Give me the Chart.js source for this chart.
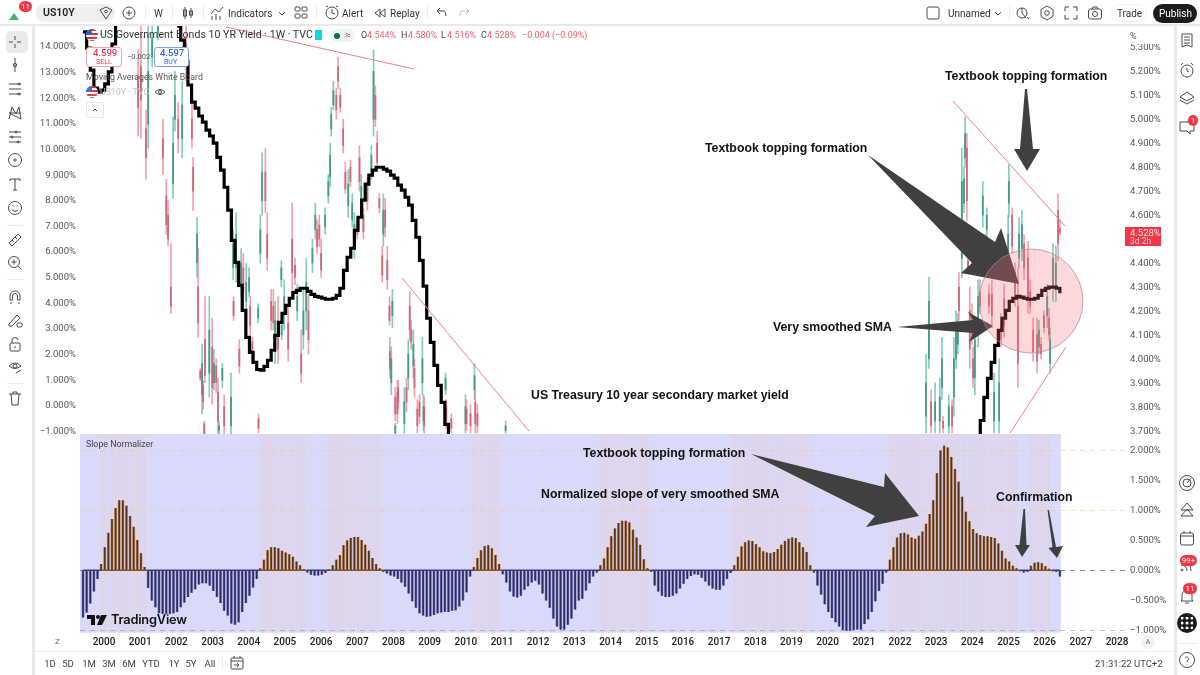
<!DOCTYPE html>
<html>
<head>
<meta charset="utf-8">
<title>US10Y</title>
<script src="https://cdn.jsdelivr.net/npm/chart.js@4"></script>
<style>
  html, body { margin: 0; padding: 0; width: 1200px; height: 675px; overflow: hidden; background: #fff;
    font-family: Roboto, "Noto Sans", sans-serif; color: #333; }
  canvas { position: absolute; }
  .t { position: absolute; white-space: nowrap; line-height: 1; }
  .note { position: absolute; white-space: nowrap; line-height: 1; font-family: "Liberation Sans", sans-serif;
    font-weight: bold; font-size: 12.3px; color: #111; }
  .sep { position: absolute; background: #e9e9e9; }
  .badge { position: absolute; background: #f23645; color: #fff; border-radius: 8px; font-size: 8px; line-height: 11px;
    text-align: center; height: 11px; }
  svg.ic { position: absolute; overflow: visible; fill: none; stroke: #4a4a4a; stroke-width: 1; }
  svg#draw { position: absolute; left: 0; top: 0; }
</style>
</head>
<body>
<canvas id="mainChart" width="1140" height="410" style="left:34px;top:24px"></canvas>
<canvas id="slopeChart" width="1140" height="222" style="left:34px;top:434px"></canvas>

<svg id="draw" width="1200" height="675">
  <g stroke="#ef7f8b" stroke-width="1" fill="none">
    <line x1="226" y1="27" x2="414" y2="69"/>
    <line x1="402" y1="278" x2="529" y2="431"/>
    <line x1="953" y1="101" x2="1065" y2="226"/>
    <line x1="1010" y1="433" x2="1066" y2="347"/>
  </g>
  <g fill="#404040">
    <polygon points="1025,89 1027,89 1033,149 1040,149 1027,171 1014,149 1020,149"/>
    <polygon points="868,155 995,242 1001,228 1019,284 961,273 972,263"/>
    <polygon points="897,327 973,320 968,312 993,326 969,342 973,333"/>
    <polygon points="751,454 884,487 885,473 919,516 866,527 875,516"/>
    <polygon points="1023.5,509 1025,509 1026.5,545 1030,545 1022,557 1015,545 1019.5,545"/>
    <polygon points="1047.5,510 1049,510 1056,547 1063,546 1057,558 1048.5,548 1052.5,547"/>
  </g>
  <circle cx="1031" cy="301" r="52" fill="rgba(248,110,120,.27)" stroke="rgba(170,140,140,.7)" stroke-width="1"/>
</svg>

<div id="ui"></div>

<script>
// bars are one tenth of a year apart in this compressed view
const firstBarYear = 1999.42;
const barStep = 0.1;

// Slope Normalizer histogram, %
const slopeValues = [
  -.78,-.7,-.55,-.35,-.14,.1,.38,.62,.85,1.03,
  1.16,1.16,1.07,.9,.72,.5,.28,.05,-.29,-.5,
  -.61,-.71,-.72,-.72,-.72,-.71,-.69,-.61,-.53,-.44,
  -.37,-.31,-.23,-.21,-.21,-.25,-.34,-.44,-.54,-.67,
  -.75,-.88,-.9,-.86,-.69,-.54,-.42,-.28,-.14,.03,
  .17,.33,.38,.38,.36,.32,.29,.26,.22,.14,
  .08,.01,-.03,-.07,-.08,-.08,-.07,-.04,.01,.08,
  .17,.25,.41,.49,.53,.55,.55,.5,.42,.32,
  .2,.1,.03,-.02,-.05,-.08,-.1,-.14,-.2,-.27,
  -.38,-.51,-.62,-.71,-.75,-.77,-.76,-.74,-.71,-.7,
  -.69,-.69,-.67,-.66,-.6,-.5,-.36,-.1,.05,.2,
  .33,.4,.41,.36,.25,.1,-.06,-.2,-.35,-.43,
  -.45,-.42,-.32,-.26,-.2,-.17,-.23,-.38,-.5,-.62,
  -.8,-.93,-.98,-.98,-.9,-.8,-.65,-.5,-.47,-.33,
  -.21,-.1,-.03,.08,.19,.38,.56,.69,.78,.82,
  .82,.79,.67,.54,.42,.18,.03,-.02,-.25,-.35,
  -.42,-.44,-.44,-.42,-.38,-.3,-.22,-.14,-.09,-.06,
  -.07,-.12,-.18,-.25,-.3,-.32,-.32,-.25,-.14,-.04,
  .08,.22,.39,.46,.49,.48,.43,.38,.31,.29,
  .28,.3,.35,.42,.48,.52,.54,.53,.46,.38,
  .3,.08,-.03,-.25,-.4,-.56,-.69,-.79,-.86,-.93,
  -.99,-1,-1,-.99,-.98,-.98,-.89,-.81,-.69,-.51,
  -.34,-.22,-.03,.17,.38,.54,.61,.62,.59,.54,
  .52,.57,.64,.77,.93,1.16,1.61,1.99,2.07,2.04,
  1.88,1.68,1.47,1.22,.97,.81,.68,.61,.58,.56,
  .56,.55,.53,.44,.32,.19,.14,.07,.03,-.01,
  -.03,-.02,.07,.12,.13,.11,.06,.02,-.01,-.02,
  -.1
];

// very smoothed SMA, left axis %, only where it is inside the pane
const smaStart = [14.55,13.92,13.06,12.36,12.2,12.28,12.52,12.99,14.08,14.82];
const smaMiddle = [
  14.78,14.23,13.38,12.48,11.81,11.58,11.27,11.03,10.72,10.49,
  10.21,9.66,9.16,8.49,7.6,6.42,5.56,4.66,3.69,2.63,
  2.05,1.66,1.38,1.35,1.5,1.74,2.13,2.71,3.22,3.57,
  3.88,4.16,4.39,4.47,4.55,4.55,4.43,4.31,4.23,4.2,
  4.16,4.12,4.12,4.16,4.27,4.55,5.25,5.76,6.11,6.81,
  7.32,7.99,8.61,8.96,9.16,9.27,9.27,9.2,9.12,8.96,
  8.85,8.57,8.38,8.1,7.79,7.2,6.54,5.64,4.63,3.38,
  2.44,1.54,.76,.1,-.76,-1.58
];
const smaEnd = [-1.31,-.61,.29,1.03,1.66,2.32,2.91,3.38,3.69,4.04,4.16,4.23,4.2,4.16,4.12,4.12,4.16,4.27,4.47,4.55,4.59,4.59,4.55,4.35];
const smaGapOne = 16;
const smaGapTwo = 145;

// weekly candles, right axis %, only the ones inside the pane
const candleYear = [
  2000.94,2001.02,2001.16,2001.22,2001.33,2001.49,2001.63,2001.72,2001.77,2001.85,2001.91,2001.96,2002.05,2002.16,2002.27,2002.43,2002.46,2002.57,2002.6,2002.66,
  2002.71,2002.74,2002.77,2002.79,2002.91,2002.99,2003.04,2003.1,2003.15,2003.18,2003.27,2003.32,2003.51,2003.57,2003.58,2003.65,2003.74,2003.79,2003.85,2003.93,
  2004.01,2004.04,2004.1,2004.26,2004.27,2004.32,2004.37,2004.46,2004.51,2004.62,2004.68,2004.73,2004.81,2004.9,2004.91,2004.98,2005.09,2005.2,2005.28,2005.34,
  2005.45,2005.51,2005.59,2005.65,2005.76,2005.84,2005.89,2005.95,2006.0,2006.11,2006.2,2006.25,2006.28,2006.34,2006.42,2006.47,2006.53,2006.61,2006.67,2006.75,
  2006.81,2006.86,2006.92,2007.0,2007.06,2007.11,2007.17,2007.28,2007.39,2007.45,2007.5,2007.55,2007.61,2007.69,2007.72,2007.77,2007.83,2007.89,2007.9,2007.94,
  2007.97,2008.05,2008.05,2008.11,2008.13,2008.3,2008.36,2008.41,2008.45,2008.49,2008.55,2008.58,2008.66,2008.72,2008.8,2008.83,2008.85,2009.44,2009.46,2009.6,
  2009.99,2010.02,2010.13,2010.24,2010.26,2010.32,2011.1,
  2022.72,2022.8,2022.86,2022.97,2023.1,2023.16,2023.19,2023.35,2023.44,2023.49,2023.55,2023.6,2023.63,2023.71,2023.77,2023.8,2023.85,2023.88,2023.93,2023.99,
  2024.02,2024.07,2024.16,2024.21,2024.29,2024.35,2024.4,2024.46,2024.54,2024.6,2024.74,2024.79,2024.88,2024.99,2025.01,2025.1,2025.18,2025.26,2025.29,2025.37,
  2025.43,2025.54,2025.6,2025.68,2025.79,2025.84,2025.9,2025.98,2026.07,2026.12,2026.15,2026.23,2026.31,2026.37,2026.42
];
const candleHigh = [
  5.29,5.41,5.04,5.4,5.4,5.45,5,4.75,4.66,4.48,5.01,5.2,5.07,5.16,5.4,5.08,4.84,4.59,4.46,3.96,
  4.06,3.91,3.74,4.26,4.26,4.17,4.04,4,3.92,3.74,3.98,3.85,3.94,4.54,4.26,4.61,4.08,4.46,4.44,4.4,
  4.38,4.26,4.09,4.23,3.77,4.6,4.86,4.88,4.61,4.29,4.29,4.24,4.26,4.41,4.16,4.33,4.22,4.65,4.42,4.31,
  4.12,4.29,4.42,4.27,4.5,4.65,4.58,4.6,4.5,4.63,4.77,4.9,5.05,5.16,5.13,5.26,5.13,5,4.82,4.79,
  4.83,4.69,4.61,4.59,4.89,4.77,4.63,4.76,4.89,5.29,5.14,4.95,4.69,4.47,4.69,4.67,4.47,4.26,4.09,4.05,
  4.29,3.73,3.88,3.91,3.91,3.88,3.92,4.08,4.28,4.16,4.12,4,3.83,3.85,4.09,3.85,3.84,3.94,3.83,3.77,
  3.85,3.83,3.81,3.98,3.87,3.81,3.74,
  4.02,4.34,3.87,3.9,3.92,4.09,3.76,3.85,3.83,4.09,4.2,4.19,4.36,4.88,4.8,5.01,4.94,4.42,4.3,4.23,
  4.05,4.16,4.33,4.33,4.74,4.52,4.63,4.31,4.33,3.94,4,4.19,4.31,4.6,4.81,4.63,4.4,4.38,4.59,4.62,
  4.52,4.49,4.33,4.17,4.17,4.16,4.09,4.2,4.31,4.21,4.13,4.48,4.47,4.69,4.58
];
const candleLow = [
  4.93,4.92,4.75,4.88,5.22,5.33,4.77,4.52,4.47,4.19,4.67,4.95,4.86,4.84,5.16,4.88,4.62,4.34,4.09,3.91,
  3.77,3.79,3.66,3.9,3.84,3.81,3.87,3.86,3.68,3.68,3.88,3.68,3.68,4.33,4.16,4.32,3.94,4.26,4.22,4.19,
  4.26,4.1,3.98,4.15,3.69,4.4,4.6,4.61,4.37,4.12,4.12,3.98,3.98,4.3,4.08,4.12,3.99,4.29,4.31,4.16,
  3.9,4.04,4.12,4.02,4.36,4.5,4.44,4.47,4.34,4.52,4.65,4.72,4.93,5.04,5,5.13,5.03,4.86,4.69,4.59,
  4.72,4.55,4.42,4.5,4.7,4.59,4.5,4.62,4.75,4.93,4.97,4.79,4.61,4.32,4.47,4.51,4.29,4.14,3.92,3.85,
  4.13,3.68,3.74,3.73,3.79,3.69,3.78,3.87,4.08,4.04,3.92,3.84,3.69,3.73,3.85,3.7,3.69,3.85,3.71,3.69,
  3.69,3.7,3.69,3.83,3.69,3.69,3.69,
  3.69,3.96,3.69,3.69,3.69,3.83,3.69,3.69,3.69,3.76,3.96,4.02,4.16,4.34,4.61,4.8,4.58,4.37,3.96,4.06,
  3.88,3.85,4.05,4.19,4.55,4.38,4.51,4.19,4.13,3.69,3.69,4.05,4.09,4.36,4.59,4.44,4.22,3.88,4.38,4.41,
  4.33,4.19,4.19,3.99,3.94,4.02,4,4.11,4.13,4.08,3.94,4.24,4.24,4.41,4.516
];
const candleOpen = [
  5.18,5.22,4.96,4.98,5.26,5.36,4.92,4.68,4.6,4.3,4.73,5,5,4.92,5.32,5,4.8,4.4,4.3,3.95,
  3.85,3.89,3.73,4.08,3.94,4.05,3.9,3.97,3.86,3.7,3.91,3.8,3.72,4.38,4.24,4.38,4.04,4.3,4.38,4.24,
  4.28,4.22,4.07,4.17,3.75,4.44,4.66,4.78,4.52,4.24,4.22,4.04,4.16,4.33,4.1,4.18,4.15,4.5,4.39,4.2,
  4.02,4.1,4.2,4.2,4.4,4.54,4.54,4.56,4.44,4.55,4.68,4.76,4.96,5.06,5.1,5.22,5.1,4.96,4.78,4.64,
  4.8,4.58,4.48,4.57,4.84,4.63,4.6,4.72,4.78,5,5.1,4.9,4.67,4.43,4.52,4.62,4.41,4.22,4.03,3.9,
  4.18,3.69,3.84,3.86,3.88,3.73,3.88,3.92,4.22,4.12,3.97,3.96,3.79,3.82,3.9,3.74,3.8,3.87,3.8,3.75,
  3.73,3.79,3.77,3.87,3.82,3.77,3.7,
  3.76,4,3.82,3.74,3.74,3.88,3.74,3.72,3.8,3.84,4,4.06,4.3,4.42,4.65,4.84,4.88,4.41,4.2,4.18,
  4,3.92,4.12,4.28,4.6,4.48,4.54,4.27,4.27,3.74,3.74,4.14,4.25,4.42,4.65,4.6,4.36,4.22,4.42,4.46,
  4.48,4.42,4.28,4.12,4.1,4.05,4.06,4.18,4.18,4.17,3.98,4.3,4.3,4.62,4.544
];
const candleClose = [
  5.05,5.08,4.84,5.2,5.34,5.41,4.84,4.56,4.5,4.22,4.9,5.1,4.92,5.06,5.22,4.92,4.7,4.52,4.15,3.92,
  3.98,3.82,3.68,3.93,4.12,3.88,3.98,3.9,3.74,3.72,3.96,3.72,3.84,4.48,4.18,4.52,3.97,4.4,4.28,4.32,
  4.34,4.14,4,4.21,3.71,4.54,4.78,4.66,4.42,4.16,4.15,4.16,4.04,4.38,4.14,4.26,4.04,4.36,4.34,4.26,
  3.94,4.2,4.32,4.08,4.46,4.6,4.47,4.5,4.37,4.6,4.74,4.85,5.02,5.12,5.04,5.16,5.05,4.89,4.71,4.73,
  4.74,4.65,4.56,4.52,4.74,4.72,4.53,4.66,4.85,5.2,5,4.82,4.63,4.35,4.62,4.55,4.33,4.16,3.96,4,
  4.24,3.72,3.77,3.77,3.82,3.82,3.82,4.02,4.12,4.07,4.06,3.88,3.72,3.76,4,3.8,3.72,3.92,3.74,3.71,
  3.8,3.73,3.72,3.93,3.73,3.72,3.72,
  3.9,4.24,3.72,3.82,3.84,4,3.71,3.8,3.72,4,4.12,4.14,4.2,4.74,4.75,4.94,4.66,4.38,4.04,4.1,
  3.92,4.08,4.26,4.22,4.68,4.42,4.6,4.22,4.18,3.86,3.9,4.08,4.14,4.52,4.74,4.47,4.27,3.98,4.52,4.56,
  4.38,4.26,4.22,4.03,3.99,4.12,4.02,4.13,4.26,4.1,4.08,4.42,4.4,4.48,4.528
];

const barYear = slopeValues.map((v, i) => +(firstBarYear + i * barStep).toFixed(2));
const smaValues = [...smaStart, ...Array(smaGapOne).fill(null), ...smaMiddle, ...Array(smaGapTwo).fill(null), ...smaEnd];

const pct = v => (v < 0 ? '\u2212' + Math.abs(v).toFixed(3) : v.toFixed(3)) + '%';
const axisFont = { family: 'Roboto', size: 9.5 };
const xMin = 1999.336, xMax = 2028.22;

// fixes gutters so both panes line up
const fixWidth = w => s => { s.width = w; s.paddingTop = 0; s.paddingBottom = 0; };

const upWick = 'rgba(90,185,165,.75)', downWick = 'rgba(242,135,152,.8)';
const upBody = 'rgba(60,145,128,.85)', downBody = 'rgba(200,95,112,.85)';
const isUp = candleOpen.map((o, i) => candleClose[i] >= o);

new Chart(document.getElementById('mainChart'), {
  type: 'bar',
  data: {
    datasets: [
      { type: 'line', order: 0, yAxisID: 'yL', data: barYear.map((x, i) => ({ x, y: smaValues[i] })),
        borderColor: '#000', borderWidth: 3.2, pointRadius: 0, stepped: true, spanGaps: false },
      { order: 1, yAxisID: 'yR', grouped: false, barThickness: 1.2,
        data: candleYear.map((x, i) => ({ x, y: [candleOpen[i], candleClose[i]] })),
        backgroundColor: isUp.map(u => u ? upBody : downBody) },
      { order: 2, yAxisID: 'yR', grouped: false, barThickness: 1,
        data: candleYear.map((x, i) => ({ x, y: [candleLow[i], candleHigh[i]] })),
        backgroundColor: isUp.map(u => u ? upWick : downWick) }
    ]
  },
  options: {
    responsive: false, animation: false,
    layout: { padding: 0 },
    plugins: { legend: { display: false }, tooltip: { enabled: false } },
    scales: {
      x: { type: 'linear', offset: false, min: xMin, max: xMax, display: false },
      yL: { position: 'left', min: -1.137, max: 14.86, afterFit: fixWidth(46),
        grid: { display: false, drawTicks: false }, border: { display: false },
        ticks: { stepSize: 1, includeBounds: false, padding: 4, labelOffset: 1, color: '#555', font: axisFont, callback: v => pct(v) } },
      yR: { position: 'right', min: 3.686, max: 5.398, afterFit: fixWidth(49),
        grid: { display: false, drawTicks: false }, border: { display: false },
        ticks: { stepSize: 0.1, includeBounds: false, padding: 5, labelOffset: 0.5, color: '#555', font: axisFont, callback: v => pct(v) } }
    }
  }
});

// lilac panel behind the histogram, stops at the last bar
const panelFill = {
  id: 'panelFill',
  beforeDraw(chart) {
    const { ctx, chartArea: a, scales } = chart;
    const right = scales.x.getPixelForValue(barYear[barYear.length - 1] + barStep / 4);
    ctx.save();
    ctx.fillStyle = '#d9d9fa';
    ctx.fillRect(a.left, a.top, right - a.left, a.bottom - a.top);
    ctx.restore();
  }
};

const slopeMin = -1.04, slopeMax = 2.27;
const gridColor = ctx => {
  const v = ctx.tick.value;
  if (v === 2 || v === 1) return 'rgba(240,185,140,.45)';
  if (v === 0) return 'rgba(90,90,100,.7)';
  if (v === -1) return 'rgba(130,130,190,.5)';
  return 'transparent';
};
const upBars = barYear.map((x, i) => ({ x, y: slopeValues[i] })).filter(p => p.y > 0);

new Chart(document.getElementById('slopeChart'), {
  type: 'bar',
  plugins: [panelFill],
  data: {
    datasets: [
      { type: 'line', order: 0, data: barYear.map(x => ({ x, y: 0 })), borderWidth: 1.4, pointRadius: 0,
        borderColor: '#3d3d74',
        segment: { borderColor: c => slopeValues[c.p0DataIndex] > 0 ? '#8a5325' : '#3d3d74' } },
      { order: 1, grouped: false, barThickness: 1,
        data: barYear.map((x, i) => ({ x, y: slopeValues[i] })),
        backgroundColor: slopeValues.map(v => v > 0 ? '#5a3210' : '#2b2b63') },
      { order: 2, grouped: false, barThickness: 2.2,
        data: barYear.map((x, i) => ({ x, y: slopeValues[i] })),
        backgroundColor: slopeValues.map(v => v > 0 ? 'rgba(175,110,60,.65)' : 'rgba(85,85,160,.6)') },
      { order: 3, grouped: false, barThickness: 1.6,
        data: upBars.map(p => ({ x: p.x, y: [slopeMin, slopeMax] })),
        backgroundColor: 'rgba(250,200,165,.22)' }
    ]
  },
  options: {
    responsive: false, animation: false,
    layout: { padding: { left: 46 } },
    plugins: { legend: { display: false }, tooltip: { enabled: false } },
    scales: {
      x: { type: 'linear', offset: false, min: xMin, max: xMax,
        afterFit: s => { s.height = 23.3; s.paddingLeft = 0; s.paddingRight = 0; },
        grid: { display: false, drawTicks: false }, border: { display: false },
        ticks: { stepSize: 1, includeBounds: false, autoSkip: false, maxRotation: 0, padding: 4, color: '#222',
          font: { family: 'Roboto', size: 10, weight: '500' }, callback: v => String(v) } },
      y: { position: 'right', min: slopeMin, max: slopeMax, afterFit: fixWidth(49),
        grid: { color: gridColor, drawTicks: false, lineWidth: 1 }, border: { display: false, dash: [5, 5] },
        ticks: { stepSize: 0.5, includeBounds: false, padding: 5, labelOffset: 0.5, color: '#555', font: axisFont, callback: v => pct(v) } }
    }
  }
});

// ---- chrome around the charts ----
const ui = document.getElementById('ui');
function text(x, y, s, size, color, extra) {
  const d = document.createElement('div');
  d.className = 't';
  d.textContent = s;
  d.style.cssText = `left:${x}px;top:${y - size / 2}px;font-size:${size}px;color:${color};${extra || ''}`;
  ui.appendChild(d);
  return d;
}
function box(x, y, w, h, css) {
  const d = document.createElement('div');
  d.style.cssText = `position:absolute;left:${x}px;top:${y}px;width:${w}px;height:${h}px;${css}`;
  ui.appendChild(d);
  return d;
}
function icon(cx, cy, inner) {
  ui.insertAdjacentHTML('beforeend', `<svg class="ic" width="18" height="18" viewBox="0 0 18 18" style="left:${cx - 9}px;top:${cy - 9}px">${inner}</svg>`);
}
function note(x, y, s) {
  const d = document.createElement('div');
  d.className = 'note';
  d.textContent = s;
  d.style.left = x + 'px';
  d.style.top = (y - 6.2) + 'px';
  ui.appendChild(d);
}
function badge(x, y, w, s) {
  const d = document.createElement('div');
  d.className = 'badge';
  d.textContent = s;
  d.style.left = x + 'px';
  d.style.top = y + 'px';
  d.style.width = w + 'px';
  ui.appendChild(d);
}
function flag(cx, cy, opacity) {
  ui.insertAdjacentHTML('beforeend', `<svg width="14" height="14" viewBox="0 0 14 14" style="position:absolute;left:${cx - 7}px;top:${cy - 7}px;opacity:${opacity}">
    <clipPath id="fc${cy}"><circle cx="7" cy="7" r="6"/></clipPath><g clip-path="url(#fc${cy})">
    <rect width="14" height="14" fill="#fff"/><rect y="1" width="14" height="2" fill="#d33"/><rect y="5" width="14" height="2" fill="#d33"/>
    <rect y="9" width="14" height="2" fill="#d33"/><rect y="12" width="14" height="2" fill="#d33"/><rect width="7" height="7" fill="#2f5fc4"/></g></svg>`);
}

// frame
box(0, 24, 1200, 2, 'background:#e9e9e9');
box(32, 26, 3, 649, 'background:#e9e9e9');
box(1174, 26, 2.5, 649, 'background:#e9e9e9');
box(35, 651, 1139, 1, 'background:#ececec');

// top bar
box(35, 4, 80, 18, 'background:#efefef;border-radius:9px');
text(43, 13.5, 'US10Y', 10.5, '#222', 'font-weight:600');
icon(14, 15, '<path d="M4 14 L9 7 L14 14 Z" fill="#4caf6a" stroke="none"/>');
badge(19, 1, 13, '11');
icon(106, 13, '<path d="M3 6 L9 3 L15 6 L9 15 Z"/><circle cx="9" cy="7.5" r="1.3"/>');
icon(129, 13, '<circle cx="9" cy="9" r="6"/><path d="M9 6 V12 M6 9 H12"/>');
[145, 172, 203, 316, 427].forEach(x => box(x, 6, 1, 14, 'background:#ececec'));
text(154, 14, 'W', 10, '#333');
icon(188, 13, '<path d="M6 3 V15 M12 4 V14"/><rect x="4.5" y="6" width="3" height="6"/><rect x="10.5" y="7" width="3" height="4"/>');
icon(217, 13, '<path d="M3 10 L7 5 L11 8 L15 3"/><path d="M4 16 V12 M8 16 V10 M12 16 V12"/>');
text(228, 14, 'Indicators', 10, '#333');
icon(282, 13, '<path d="M6 8 L9 11 L12 8"/>');
icon(301, 13, '<rect x="3" y="3" width="5" height="4" rx="1"/><rect x="10" y="3" width="5" height="4" rx="1"/><rect x="3" y="10" width="5" height="4" rx="1"/><rect x="10" y="10" width="5" height="4" rx="1"/>');
icon(332, 13, '<circle cx="9" cy="9" r="6"/><path d="M9 5 V9 L12 10 M3 3 L5 2 M15 3 L13 2"/>');
text(342, 14, 'Alert', 10, '#333');
icon(380, 13, '<path d="M9 5 L4 9 L9 13 Z M14 5 L9 9 L14 13 Z"/>');
text(390, 14, 'Replay', 10, '#333');
icon(441, 13, '<path d="M5 7 H12 Q14 7 14 12 M5 7 L8 4 M5 7 L8 10"/>');
icon(465, 13, '<g opacity=".35"><path d="M13 7 H6 Q4 7 4 12 M13 7 L10 4 M13 7 L10 10"/></g>');
icon(933, 13, '<rect x="3" y="3" width="12" height="12" rx="2"/>');
text(948, 14, 'Unnamed', 10, '#333');
icon(998, 13, '<path d="M6 8 L9 11 L12 8"/>');
box(1009, 6, 1, 14, 'background:#ececec');
icon(1023, 13, '<circle cx="8" cy="9" r="5"/><path d="M8 4 V9 L12 14 M13 13 L15 15"/>');
icon(1047, 13, '<path d="M9 2 L15 5.5 V12.5 L9 16 L3 12.5 V5.5 Z"/><circle cx="9" cy="9" r="2.3"/>');
icon(1071, 13, '<path d="M3 7 V3 H7 M11 3 H15 V7 M15 11 V15 H11 M7 15 H3 V11"/>');
icon(1095, 13, '<rect x="2.5" y="5" width="13" height="10" rx="2"/><circle cx="9" cy="10" r="2.5"/><path d="M6 5 L7 3 H11 L12 5"/>');
box(1110, 4, 37, 18, 'border-radius:9px;border:1px solid #f0f0f0;box-sizing:border-box');
text(1117, 14, 'Trade', 10, '#333');
box(1153, 4, 44, 19, 'background:#1c1c1c;border-radius:10px');
text(1159, 14, 'Publish', 10, '#fff');

// left toolbar
box(6, 31, 22, 22, 'background:#eaeaea;border-radius:5px');
icon(15, 42, '<path d="M9 3 V7 M9 11 V15 M3 9 H7 M11 9 H15"/>');
icon(15, 65, '<path d="M9 2 V16"/><circle cx="9" cy="9" r="1.7"/>');
icon(15, 89, '<path d="M3 4 H15 M3 9 H15 M3 14 H15"/><circle cx="13" cy="4" r="1"/><circle cx="13" cy="14" r="1"/>');
icon(15, 113, '<path d="M3 15 L6 3 L10 10 L13 3 L15 15 L3 9 L15 9"/>');
icon(15, 137, '<path d="M3 4 H15 M3 9 H15 M3 14 H15"/><circle cx="10" cy="4" r="1"/><circle cx="6" cy="9" r="1"/><circle cx="12" cy="14" r="1"/>');
icon(15, 160, '<circle cx="9" cy="9" r="6.5"/><circle cx="9" cy="9" r="1.2"/>');
icon(15, 184, '<path d="M4 4 H14 M9 4 V15 M7 15 H11 M4 4 V6 M14 4 V6"/>');
icon(15, 208, '<circle cx="9" cy="9" r="6.5"/><path d="M6 11 Q9 14 12 11 M6.5 7 H7.5 M10.5 7 H11.5"/>');
box(7, 225, 16, 1, 'background:#ececec');
icon(15, 240, '<path d="M3 12 L12 3 L15 6 L6 15 Z M6 9 L8 11 M9 6 L11 8"/>');
icon(15, 263, '<circle cx="8" cy="8" r="5.5"/><path d="M12 12 L15.5 15.5 M8 5.5 V10.5 M5.5 8 H10.5"/>');
box(7, 279, 16, 1, 'background:#ececec');
icon(15, 297, '<path d="M4 12 V8 A5 5 0 0 1 14 8 V12 H11.5 V8 A2.5 2.5 0 0 0 6.5 8 V12 Z M5 14 V16 M13 14 V16"/>');
icon(15, 320, '<path d="M3 13 L11 4 L14 7 L6 15 H3 Z"/><rect x="11" y="12" width="5" height="4" rx="1"/>');
icon(15, 344, '<rect x="4" y="8" width="10" height="8" rx="1"/><path d="M6 8 V6 A3 3 0 0 1 12 5"/><path d="M9 11 V13"/>');
icon(15, 367, '<path d="M3 8 Q9 2 15 8 Q9 13 3 8 Z"/><circle cx="9" cy="8" r="2"/><path d="M10 15 L15 12"/>');
box(7, 383, 16, 1, 'background:#ececec');
icon(15, 398, '<path d="M3 5 H15 M7 5 V3 H11 V5 M5 5 L6 16 H12 L13 5"/>');

// right toolbar
const rx = 1187;
icon(rx, 41, '<path d="M4 2 H14 V15 L9 13 L4 15 Z M6 5 H12 M6 8 H12 M6 11 H12"/>');
icon(rx, 70, '<circle cx="9" cy="10" r="6"/><path d="M9 7 V10 L11 11 M3 4 L5 2 M15 4 L13 2"/>');
icon(rx, 98, '<path d="M9 3 L16 8 L9 12 L2 8 Z M2 11 L9 15 L16 11"/>');
icon(rx, 127, '<path d="M2 4 H16 V13 H12 V16 L9 13 H2 Z"/>');
badge(1188, 115, 10, '1');
icon(rx, 483, '<circle cx="9" cy="9" r="7.5"/><circle cx="9" cy="9" r="4"/><path d="M9 9 L13 4"/>');
icon(rx, 510, '<path d="M9 2 L15 9 H3 Z M3 15 L9 8 L15 15 Z"/>');
icon(rx, 538, '<rect x="2.5" y="4" width="13" height="12" rx="2"/><path d="M3 7 H15 M6 2 V4 M12 2 V4"/>');
icon(rx, 565, '<path d="M3 5 Q13 5 13 15 M3 9 Q9 9 9 15"/><circle cx="4" cy="14" r="1"/>');
badge(1180, 555, 17, '99+');
icon(rx, 596, '<path d="M4 13 V8 A5 5 0 0 1 14 8 V13 L15 14 H3 Z M7 16 H11"/>');
badge(1183, 583, 14, '11');
box(1177, 613, 20, 20, 'background:#1c1c1c;border-radius:50%');
ui.insertAdjacentHTML('beforeend', '<svg width="12" height="12" style="position:absolute;left:1181px;top:617px" viewBox="0 0 12 12" fill="#fff">' +
  [1, 6, 11].map(y => [1, 6, 11].map(x => `<circle cx="${x}" cy="${y}" r="1.5"/>`).join('')).join('') + '</svg>');
box(1179, 643, 18, 1, 'background:#ececec');
icon(rx, 660, '<circle cx="9" cy="9" r="7.5"/><path d="M7 7 A2 2 0 1 1 9 10 V11 M9 13 V13.6"/>');

// legend over the main pane
flag(92, 35, 1);
text(100, 35, 'US Government Bonds 10 YR Yield \u00b7 1W \u00b7 TVC', 10.6, '#333');
box(315, 30, 7, 10, 'background:#12d4e8');
box(330, 29, 25, 13, 'background:#eef4f3;border-radius:7px');
box(334, 32.5, 6, 6, 'background:#0b6b5e;border-radius:50%');
text(345, 35, '\u2248', 10, '#b2455a');
const red = '#f0616f';
text(361, 35.5, 'O', 9, '#444'); text(367, 35.5, '4.544%', 9, red);
text(401, 35.5, 'H', 9, '#444'); text(408, 35.5, '4.580%', 9, red);
text(441, 35.5, 'L', 9, '#444'); text(447, 35.5, '4.516%', 9, red);
text(481, 35.5, 'C', 9, '#444'); text(487, 35.5, '4.528%', 9, red);
text(522, 35.5, '\u22120.004 (\u22120.09%)', 9, red);

box(86, 47, 36, 20, 'background:#fff;border:1px solid #f3a3ad;border-radius:3px;box-sizing:border-box');
text(93, 53, '4.599', 9.5, '#e8394d', 'font-weight:500');
text(96, 62, 'SELL', 7, '#e8394d');
text(127, 57, '\u22120.002', 7.5, '#555');
box(154, 47, 35, 20, 'background:#fff;border:1px solid #7d9ff0;border-radius:3px;box-sizing:border-box');
text(160, 53, '4.597', 9.5, '#2f62e6', 'font-weight:500');
text(164, 62, 'BUY', 7, '#2f62e6');
text(86, 77.5, 'Moving Averages White Board', 8.8, '#555');
flag(92, 92, .9);
text(100, 92.5, 'US10Y \u00b7 TVC', 8.8, '#c4c4c4');
icon(160, 92, '<path d="M4 9 Q9 4 14 9 Q9 14 4 9 Z"/><circle cx="9" cy="9" r="1.5"/>');
box(86, 102, 18, 16, 'background:#fff;border:1px solid #e6e6e6;border-radius:2px;box-sizing:border-box');
icon(95, 110, '<path d="M7 10 L9 8 L11 10"/>');

// right scale boxes
box(1128, 29, 39, 15, 'background:#fff');
text(1130, 36, '%', 9, '#555');
box(1125, 227, 36, 19, 'background:#f23645');
text(1130, 232.5, '4.528%', 9.5, '#ffe3e6');
text(1130, 241, '3d 2h', 8.5, '#ffd0d5');

// lower pane labels
text(86, 444.5, 'Slope Normalizer', 8.8, '#444');
ui.insertAdjacentHTML('beforeend', '<svg width="20" height="12" viewBox="0 0 20 12" style="position:absolute;left:87px;top:615px" fill="#111"><path d="M0 0 H8 V10 H4 V4 H0 Z"/><circle cx="11" cy="2" r="2"/><path d="M14 0 H20 L15 10 H10 Z"/></svg>');
text(111, 620.5, 'TradingView', 14, '#111', 'font-family:Inter;font-weight:600;font-size:12.8px;letter-spacing:-.2px');
text(55, 642, 'Z', 8, '#666');
box(1141, 635, 14, 14, 'background:#f1f1f1;border-radius:50%');
text(1145.5, 642, 'A', 7.5, '#777');

// bottom bar
[[50, '1D'], [68, '5D'], [89, '1M'], [109, '3M'], [129, '6M'], [151, 'YTD'], [174, '1Y'], [191, '5Y'], [210, 'All']]
  .forEach(r => text(r[0], 664, r[1], 9.5, '#444', 'transform:translateX(-50%)'));
box(222, 656, 1, 14, 'background:#ececec');
icon(237, 663, '<rect x="3" y="4" width="12" height="11" rx="1"/><path d="M3 7 H15 M6 2 V4 M12 2 V4 M6 11 H11 M9 9 L11 11 L9 13"/>');
text(1095, 663.5, '21:31:22 UTC+2', 9.5, '#444');

// drawing texts
note(945, 76, 'Textbook topping formation');
note(705, 148, 'Textbook topping formation');
note(773, 327, 'Very smoothed SMA');
note(531, 395, 'US Treasury 10 year secondary market yield');
note(583, 453, 'Textbook topping formation');
note(541, 494, 'Normalized slope of very smoothed SMA');
note(996, 497, 'Confirmation');
</script>
</body>
</html>
